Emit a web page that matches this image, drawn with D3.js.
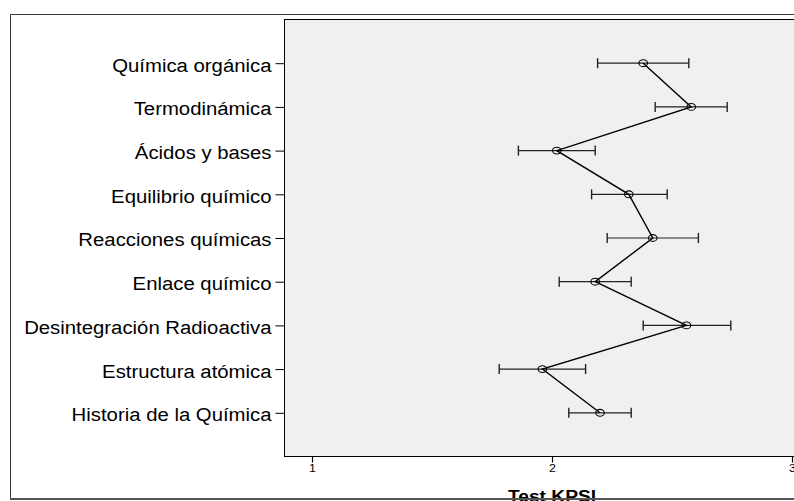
<html>

<head>
    <meta charset="utf-8" />
    <title>Test KPSI</title>
    <script src="https://d3js.org/d3.v7.min.js"></script>
    <style>
        body {
            margin: 0;
            background: #fff;
            font-family: "Liberation Sans", Arial, Helvetica, sans-serif;
        }

        .y-axis .domain,
        .x-axis .domain {
            display: none;
        }
    </style>
</head>

<body>
    <svg id="chart" width="794" height="501"></svg>
    <script>
        // topics, top to bottom
        const topics = [
            "Química orgánica",
            "Termodinámica",
            "Ácidos y bases",
            "Equilibrio químico",
            "Reacciones químicas",
            "Enlace químico",
            "Desintegración Radioactiva",
            "Estructura atómica",
            "Historia de la Química"
        ]
        // mean score and the ends of the error bar
        const means = [2.38, 2.58, 2.02, 2.32, 2.42, 2.18, 2.56, 1.96, 2.20]
        const lows = [2.19, 2.43, 1.86, 2.165, 2.23, 2.03, 2.38, 1.78, 2.07]
        const highs = [2.57, 2.73, 2.18, 2.48, 2.61, 2.33, 2.745, 2.14, 2.33]
        const xTicks = [1, 2, 3]
        const xTitle = "Test KPSI"

        const svg = d3.select("svg#chart")
        const width = +svg.attr("width")
        const height = +svg.attr("height")

        // plot box (the right side runs off the picture)
        const plot = { left: 284.5, top: 19.5, right: width + 20, bottom: 456.5 }
        const stretch = 1.13 // text in the original is a bit wide

        const xScale = d3.scaleLinear().domain([1, 3]).range([312, 792])
        const yScale = d3.scalePoint().domain(topics).range([plot.top, plot.bottom]).padding(1)

        const data = topics.map((t, i) => ({ topic: t, mean: means[i], lo: lows[i], hi: highs[i] }))

        // outer frame
        svg.append("rect")
            .attr("x", 10.5).attr("y", 14.5)
            .attr("width", width + 20).attr("height", 484.5)
            .attr("fill", "#fff")
            .attr("stroke", "#3a3a3a").attr("stroke-width", 1)

        svg.append("rect")
            .attr("x", plot.left).attr("y", plot.top)
            .attr("width", plot.right - plot.left).attr("height", plot.bottom - plot.top)
            .attr("fill", "#f0f0f0")
            .attr("stroke", "#000").attr("stroke-width", 1)

        // y axis
        const yAxis = svg.append("g").attr("class", "y-axis")
            .attr("transform", `translate(${plot.left}, 0)`)
            .call(d3.axisLeft(yScale).tickSize(9).tickPadding(0))
        yAxis.selectAll(".tick line").attr("stroke", "#000")
        yAxis.selectAll(".tick text")
            .attr("x", -13 / stretch)
            .attr("dy", "0.44em")
            .attr("transform", `scale(${stretch}, 1)`)
            .attr("fill", "#000")
            .style("font-size", "18px")
            .style("font-family", "'Liberation Sans', Arial, sans-serif")

        // x axis
        const xAxis = svg.append("g").attr("class", "x-axis")
            .attr("transform", `translate(0, ${plot.bottom})`)
            .call(d3.axisBottom(xScale).tickValues(xTicks).tickFormat(d3.format("d")).tickSize(6).tickPadding(2))
        xAxis.selectAll(".tick line").attr("stroke", "#000").attr("stroke-width", 1.2)
        xAxis.selectAll(".tick text")
            .attr("transform", `scale(${stretch}, 1)`)
            .attr("fill", "#000")
            .style("font-size", "11px")
            .style("font-family", "'Liberation Sans', Arial, sans-serif")

        svg.append("text")
            .attr("transform", `translate(${xScale(2)}, 502) scale(${stretch}, 1)`)
            .attr("text-anchor", "middle")
            .style("font-size", "17px")
            .style("font-weight", "bold")
            .style("font-family", "'Liberation Sans', Arial, sans-serif")
            .text(xTitle)

        // error bars
        const bars = svg.append("g").attr("id", "error-bars")
        bars.selectAll("line.bar").data(data)
            .join("line").attr("class", "bar")
            .attr("x1", d => xScale(d.lo)).attr("x2", d => xScale(d.hi))
            .attr("y1", d => yScale(d.topic)).attr("y2", d => yScale(d.topic))
            .attr("stroke", "#222").attr("stroke-width", 1.2)
        bars.selectAll("line.cap-lo").data(data)
            .join("line").attr("class", "cap-lo")
            .attr("x1", d => xScale(d.lo)).attr("x2", d => xScale(d.lo))
            .attr("y1", d => yScale(d.topic) - 5).attr("y2", d => yScale(d.topic) + 5)
            .attr("stroke", "#222").attr("stroke-width", 1.4)
        bars.selectAll("line.cap-hi").data(data)
            .join("line").attr("class", "cap-hi")
            .attr("x1", d => xScale(d.hi)).attr("x2", d => xScale(d.hi))
            .attr("y1", d => yScale(d.topic) - 5).attr("y2", d => yScale(d.topic) + 5)
            .attr("stroke", "#222").attr("stroke-width", 1.4)

        // line through the means
        const line = d3.line().x(d => xScale(d.mean)).y(d => yScale(d.topic))
        svg.append("path")
            .attr("d", line(data))
            .attr("fill", "none")
            .attr("stroke", "#000")
            .attr("stroke-width", 1.4)

        svg.selectAll("ellipse.mean").data(data)
            .join("ellipse").attr("class", "mean")
            .attr("cx", d => xScale(d.mean)).attr("cy", d => yScale(d.topic))
            .attr("rx", 4.3).attr("ry", 3.4)
            .attr("fill", "none")
            .attr("stroke", "#000").attr("stroke-width", 1.1)

        // heavier bottom edge of the frame
        svg.append("line")
            .attr("x1", 10).attr("x2", width)
            .attr("y1", 499).attr("y2", 499)
            .attr("stroke", "#555").attr("stroke-width", 2)
    </script>
</body>

</html>
